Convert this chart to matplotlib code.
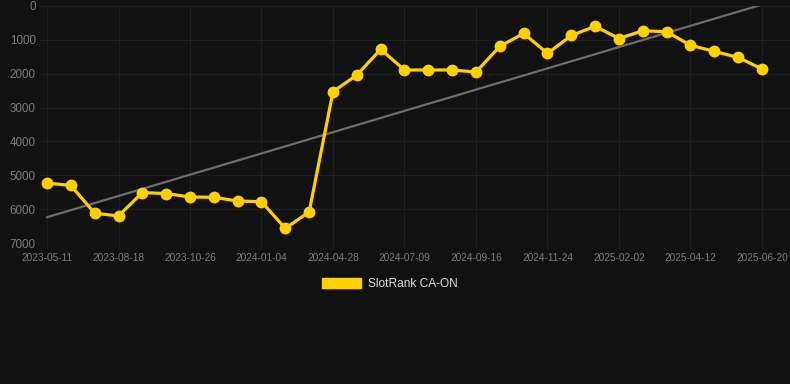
import numpy as np
import matplotlib
matplotlib.use("Agg")
import matplotlib.pyplot as plt
from matplotlib.patches import Patch

# --- data ---
tick_labels = ["2023-05-11", "2023-08-18", "2023-10-26", "2024-01-04", "2024-04-28",
               "2024-07-09", "2024-09-16", "2024-11-24", "2025-02-02", "2025-04-12",
               "2025-06-20"]
rank = [5230, 5300, 6120, 6200, 5510, 5540, 5640, 5650, 5760, 5780,
        6570, 6080, 2530, 2040, 1280, 1890, 1890, 1890, 1950, 1190,
        810, 1400, 870, 600, 960, 730, 760, 1160, 1340, 1520, 1860]
series_name = "SlotRank CA-ON"

plt.rcParams["font.family"] = ["Liberation Sans", "DejaVu Sans"]

x = np.arange(len(rank))
# linear trend over the series
coef = np.polyfit(x, rank, 1)
trend = np.polyval(coef, x[[0, -1]])

fig = plt.figure(figsize=(7.9, 3.84), dpi=100, facecolor="#111111")
ax = fig.add_axes([40 / 790, 1 - 243 / 384, 750 / 790, 237 / 384])
ax.set_facecolor("#111111")

ax.plot(x[[0, -1]], trend, color="#6e6e6e", lw=1.6, zorder=2)
ax.plot(x, rank, color="#FFD000", lw=2.3, marker="o", ms=7.5, zorder=3)

ax.set_ylim(7000, 0)
ax.set_yticks(range(0, 7001, 1000))
ax.set_xlim(-7 / 23.83, 30 + 28 / 23.83)
ax.set_xticks(x[::3])
ax.set_xticklabels(tick_labels)

ax.grid(color="#1e1e1e", lw=0.8)
ax.tick_params(axis="x", colors="#1e1e1e", labelcolor="#7c7c7c", labelsize=7.3, length=4, pad=3)
ax.tick_params(axis="y", length=0, labelcolor="#7c7c7c", labelsize=8.4, pad=3)
for s in ax.spines.values():
    s.set_visible(False)

handle = Patch(facecolor="#FFD000", edgecolor="#FFD000")
leg = fig.legend([handle], [series_name], loc="center", bbox_to_anchor=(390 / 790, 1 - 284 / 384),
                 frameon=False, fontsize=8.6, handlelength=3.3, handleheight=0.9,
                 handletextpad=0.6, labelcolor="#dddddd")

fig.savefig("out.png", dpi=100, facecolor="#111111")
